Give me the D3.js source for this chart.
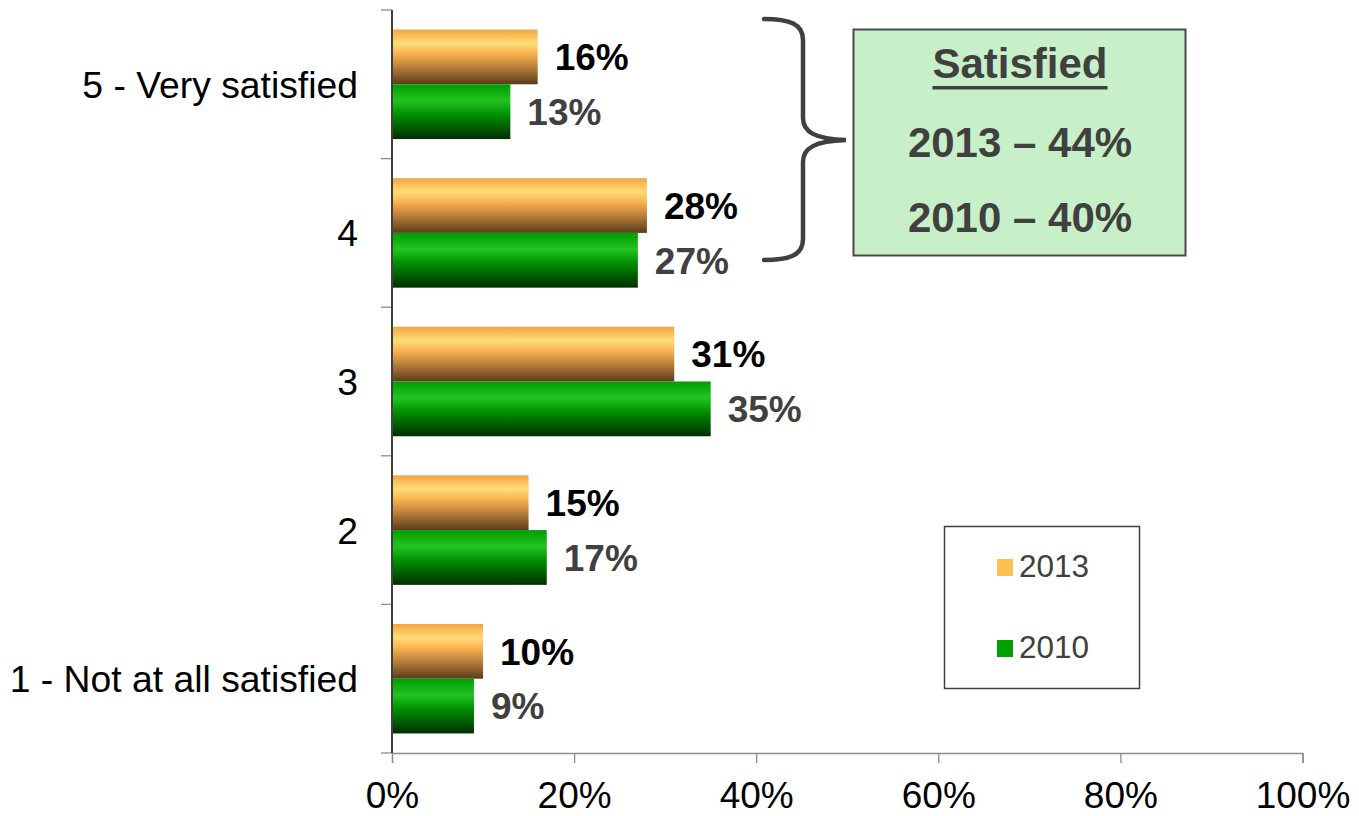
<!DOCTYPE html>
<html><head><meta charset="utf-8">
<script src="https://cdn.jsdelivr.net/npm/d3@7"></script>
<style>
html,body{margin:0;padding:0;background:#fff;}
svg{display:block;font-family:"Liberation Sans",Arial,sans-serif;}
</style></head>
<body>
<svg id="chart" width="1359" height="816"></svg>
<script>
const categories = ["5 - Very satisfied","4","3","2","1 - Not at all satisfied"];
const seriesNames = ["2013","2010"];
const values2013 = [16,28,31,15,10];
const values2010 = [13,27,35,17,9];
const xTicks = [0,20,40,60,80,100];
const boxTitle = "Satisfied";
const boxLines = ["2013 \u2013 44%","2010 \u2013 40%"];

const svg = d3.select("#chart");
const x = d3.scaleLinear().domain([0,100]).range([392,1302.5]);
const y = d3.scaleBand().domain(categories).range([10,753]).padding(0);
const ySub = d3.scaleBand().domain(seriesNames).range([0,y.bandwidth()]).paddingInner(0).paddingOuter(0.357);

const defs = svg.append("defs");
const gO = defs.append("linearGradient").attr("id","gO").attr("x1",0).attr("y1",0).attr("x2",0).attr("y2",1);
[["0%","#f2a541"],["25%","#ffdd77"],["45%","#f7b04e"],["72%","#b07838"],["100%","#5a3b1a"]]
  .forEach(s=>gO.append("stop").attr("offset",s[0]).attr("stop-color",s[1]));
const gG = defs.append("linearGradient").attr("id","gG").attr("x1",0).attr("y1",0).attr("x2",0).attr("y2",1);
[["0%","#009c00"],["30%","#22c422"],["55%","#009000"],["80%","#005a00"],["100%","#002e00"]]
  .forEach(s=>gG.append("stop").attr("offset",s[0]).attr("stop-color",s[1]));

const series = [
  {name:"2013", vals:values2013, fill:"url(#gO)", label:"#000000", swatch:"#ffc050"},
  {name:"2010", vals:values2010, fill:"url(#gG)", label:"#404040", swatch:"#00a000"}
];

// x axis
const xAxis = d3.axisBottom(x).tickValues(xTicks).tickFormat(d=>d+"%").tickSize(10).tickPadding(19);
const gx = svg.append("g").attr("transform","translate(0,753)").call(xAxis);
gx.select(".domain").attr("stroke","#8c8c8c").attr("stroke-width",1.3);
gx.selectAll(".tick line").attr("stroke","#8c8c8c").attr("stroke-width",1.3);
gx.selectAll(".tick text").attr("fill","#000").style("font-size","37px").style("font-family","'Liberation Sans',Arial,sans-serif");

// bars
series.forEach(s=>{
  svg.append("g").selectAll("rect").data(categories).join("rect")
    .attr("x",x(0))
    .attr("y",(c)=>y(c)+ySub(s.name))
    .attr("width",(c,i)=>x(s.vals[i])-x(0))
    .attr("height",ySub.bandwidth())
    .attr("fill",s.fill);
  svg.append("g").selectAll("text").data(categories).join("text")
    .attr("x",(c,i)=>x(s.vals[i])+17)
    .attr("y",(c)=>y(c)+ySub(s.name)+ySub.bandwidth()/2)
    .attr("dy","0.36em")
    .attr("fill",s.label)
    .style("font-size","37px").style("font-weight","bold")
    .text((c,i)=>s.vals[i]+"%");
});

// y axis
const gy = svg.append("g");
const boundaries = categories.map(c=>y(c)).concat([y.range()[1]]);
gy.selectAll("line.t").data(boundaries).join("line").attr("class","t")
  .attr("x1",381).attr("x2",392).attr("y1",d=>d).attr("y2",d=>d)
  .attr("stroke","#8c8c8c").attr("stroke-width",1.3);
gy.append("line").attr("x1",392).attr("x2",392).attr("y1",y.range()[0]).attr("y2",y.range()[1])
  .attr("stroke","#404040").attr("stroke-width",2);
gy.selectAll("text").data(categories).join("text")
  .attr("x",358).attr("y",d=>y(d)+y.bandwidth()/2).attr("dy","0.36em")
  .attr("text-anchor","end").attr("fill","#000").style("font-size","37.3px")
  .text(d=>d);

// brace
svg.append("path")
  .attr("d","M764,19 C790,19 803,24 803,40 L803,118 C803,132 815,139 846,140 C815,141 803,148 803,162 L803,239 C803,255 790,260 764,260")
  .attr("fill","none").attr("stroke","#404040").attr("stroke-width",4.5).attr("stroke-linecap","round");

// annotation box
svg.append("rect").attr("x",853.5).attr("y",29.5).attr("width",332).attr("height",226)
  .attr("fill","#c8f0c8").attr("stroke","#4a4a4a").attr("stroke-width",2);
const tt = svg.append("text").attr("x",1020).attr("y",78).attr("text-anchor","middle")
  .attr("fill","#404040").style("font-size","42px").style("font-weight","bold").text(boxTitle);
const tw = tt.node().getComputedTextLength();
svg.append("rect").attr("x",1020-tw/2).attr("y",86).attr("width",tw).attr("height",3.5).attr("fill","#404040");
svg.selectAll("text.bl").data(boxLines).join("text").attr("class","bl")
  .attr("x",1020).attr("y",(d,i)=>157+i*75).attr("text-anchor","middle")
  .attr("fill","#404040").style("font-size","42px").style("font-weight","bold").text(d=>d);

// legend
svg.append("rect").attr("x",944.5).attr("y",526.5).attr("width",195).attr("height",162)
  .attr("fill","#fff").attr("stroke","#404040").attr("stroke-width",1.5);
const lg = svg.selectAll("g.lg").data(series).join("g").attr("class","lg")
  .attr("transform",(d,i)=>`translate(997,${559+i*81})`);
lg.append("rect").attr("width",16).attr("height",17).attr("fill",d=>d.swatch);
lg.append("text").attr("x",22).attr("y",18).attr("fill","#404040").style("font-size","31.5px").text(d=>d.name);
</script>
</body></html>
